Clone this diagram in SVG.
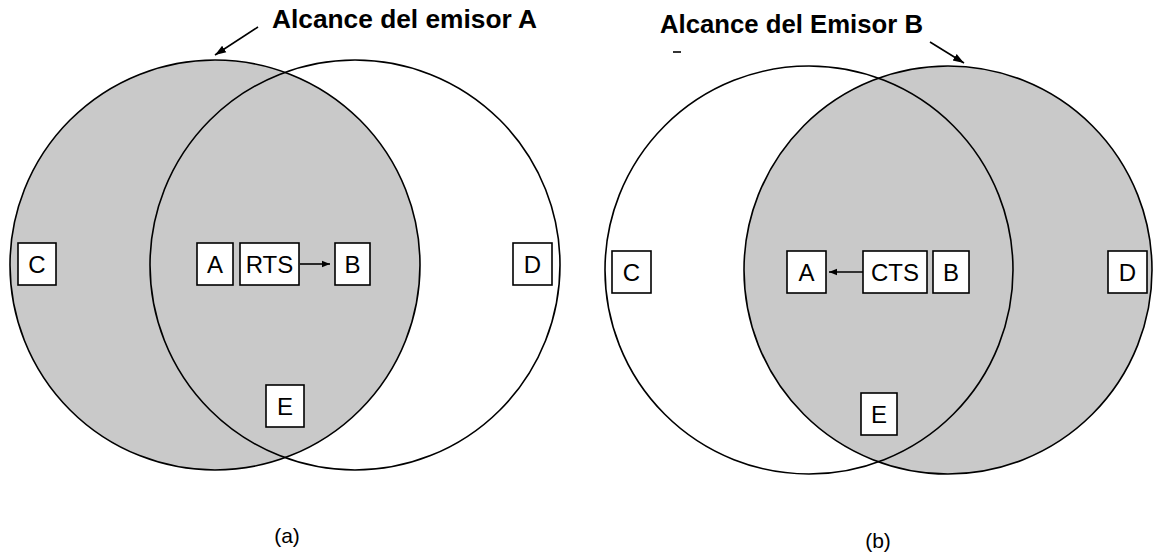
<svg xmlns="http://www.w3.org/2000/svg" width="1156" height="558" viewBox="0 0 1156 558">
<style>
.ring{stroke:#000;stroke-width:1.6}
.shade{fill:#c9c9c9}
.nofill{fill:none}
.box{fill:#fff;stroke:#000;stroke-width:1.6}
.lbl{font-family:"Liberation Sans",Arial,sans-serif;font-size:24px;fill:#000;text-anchor:middle}
.title{font-family:"Liberation Sans",Arial,sans-serif;font-size:26px;font-weight:bold;fill:#000}
.cap{font-family:"Liberation Sans",Arial,sans-serif;font-size:21px;fill:#000;text-anchor:middle}
.conn{stroke:#000;stroke-width:1.6;fill:none}
</style>
<defs>
<marker id="ah" viewBox="0 0 10 10" refX="10" refY="5" markerWidth="8" markerHeight="8" markerUnits="userSpaceOnUse" orient="auto">
<path d="M0,1 L10,5 L0,9 Z" fill="#000"/>
</marker>
<marker id="ah2" viewBox="0 0 10 10" refX="10" refY="5" markerWidth="11" markerHeight="11" markerUnits="userSpaceOnUse" orient="auto">
<path d="M0,1.5 L10,5 L0,8.5 Z" fill="#000"/>
</marker>
</defs>

<g id="ranges">
<circle class="ring shade" cx="215" cy="265" r="205"/>
<circle class="ring nofill" cx="355" cy="265" r="205"/>
<circle class="ring shade" cx="948" cy="270" r="204"/>
<circle class="ring nofill" cx="809" cy="270" r="204"/>
</g>

<g id="titles">
<text class="title" x="272" y="28" textLength="265" lengthAdjust="spacingAndGlyphs">Alcance del emisor A</text>
<text class="title" x="660" y="33" textLength="263" lengthAdjust="spacingAndGlyphs">Alcance del Emisor B</text>
<line class="conn" x1="673" y1="52" x2="681" y2="52"/>
</g>

<g id="connectors">
<line class="conn" x1="258" y1="27" x2="215" y2="55" marker-end="url(#ah2)"/>
<line class="conn" x1="930" y1="42" x2="964" y2="63" marker-end="url(#ah2)"/>
<line class="conn" x1="300" y1="264" x2="330" y2="264" marker-end="url(#ah)"/>
<line class="conn" x1="863" y1="272" x2="829" y2="272" marker-end="url(#ah)"/>
</g>

<g id="a-C"><rect class="box" x="18" y="243" width="38" height="42"/><text class="lbl" x="37" y="273">C</text></g>
<g id="a-A"><rect class="box" x="197" y="243" width="36" height="42"/><text class="lbl" x="215" y="273">A</text></g>
<g id="a-RTS"><rect class="box" x="240" y="243" width="59" height="42"/><text class="lbl" x="269.5" y="273">RTS</text></g>
<g id="a-B"><rect class="box" x="335" y="243" width="35" height="42"/><text class="lbl" x="352.5" y="273">B</text></g>
<g id="a-D"><rect class="box" x="513" y="243" width="39" height="42"/><text class="lbl" x="532.5" y="273">D</text></g>
<g id="a-E"><rect class="box" x="266" y="385" width="38" height="42"/><text class="lbl" x="285" y="415">E</text></g>

<g id="b-C"><rect class="box" x="612" y="251" width="39" height="42"/><text class="lbl" x="631.5" y="281">C</text></g>
<g id="b-A"><rect class="box" x="787" y="251" width="39" height="42"/><text class="lbl" x="806.5" y="281">A</text></g>
<g id="b-CTS"><rect class="box" x="863" y="251" width="64" height="42"/><text class="lbl" x="895" y="281">CTS</text></g>
<g id="b-B"><rect class="box" x="933" y="251" width="36" height="42"/><text class="lbl" x="951" y="281">B</text></g>
<g id="b-D"><rect class="box" x="1108" y="251" width="39" height="42"/><text class="lbl" x="1127.5" y="281">D</text></g>
<g id="b-E"><rect class="box" x="861" y="393" width="36" height="42"/><text class="lbl" x="879" y="423">E</text></g>

<g id="captions">
<text class="cap" x="287" y="543">(a)</text>
<text class="cap" x="878" y="548">(b)</text>
</g>
</svg>
